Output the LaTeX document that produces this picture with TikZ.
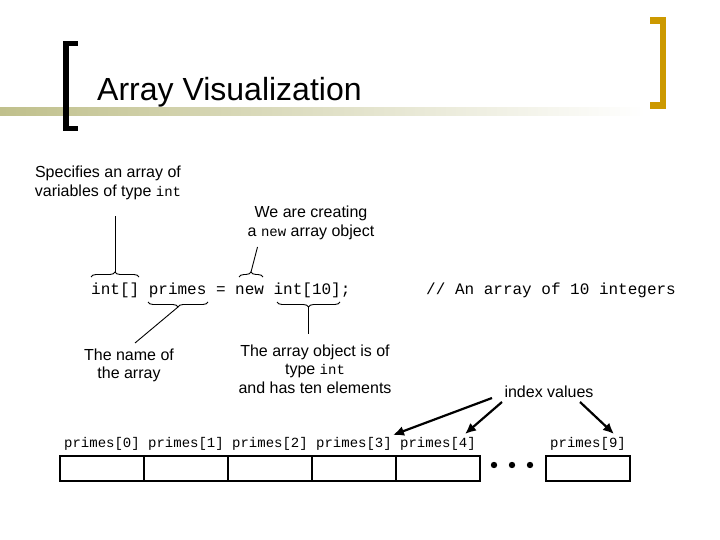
\documentclass[tikz,border=0pt]{standalone}
\usepackage{fontspec}
\setmainfont{Liberation Sans}
\setmonofont{Liberation Mono}
\usetikzlibrary{arrows.meta,decorations.pathreplacing}
\definecolor{barL}{RGB}{192,192,140}
\definecolor{gold}{RGB}{204,153,0}
\newcommand{\ic}[1]{{\fontsize{14}{16}\ttfamily #1}}
\begin{document}
\begin{tikzpicture}[x=1pt,y=-1pt,
  lbl/.style={font=\fontsize{16}{18.5}\selectfont, align=center, inner sep=0},
  codetxt/.style={font=\fontsize{16}{18}\ttfamily, inner sep=0, anchor=base west},
  idx/.style={font=\fontsize{14}{16}\ttfamily, inner sep=0, anchor=base},
  cell/.style={draw, line width=2pt, minimum width=84pt, minimum height=25pt, inner sep=0, outer sep=0},
  thinln/.style={line width=0.9pt},
  ptr/.style={line width=2.2pt, -{Latex[length=11pt,width=10pt]}},
  brc/.style={line width=0.9pt, decorate, decoration={brace, amplitude=5pt}}]
\useasboundingbox (0,0) rectangle (720,540);
\fill[white] (0,0) rectangle (720,540);
% title bar
\shade[left color=barL, right color=white] (0,108) rectangle (645,116);
\fill[black] (63,41) rectangle (69,131);
\fill[black] (63,41) rectangle (78,46);
\fill[black] (63,126) rectangle (78,131);
\fill[gold] (659.5,17.5) rectangle (666,109);
\fill[gold] (650,17.5) rectangle (666,24);
\fill[gold] (650,102.5) rectangle (666,109);
\node[anchor=base west, font=\fontsize{32}{36}\selectfont, inner sep=0] (title) at (97,100.5) {Array Visualization};
% explanation labels
\node[lbl] (spec) at (108,183) {Specifies an array of\\variables of type \ic{int}};
\node[lbl] (newl) at (311,223) {We are creating\\a \ic{new} array object};
\node[lbl] (name) at (129,365.5) {The name of\\the array};
\node[lbl] (obj) at (315,369) {The array object is of\\type \ic{int}\\and has ten elements};
\node[lbl] (iv) at (549,392) {index values};
% code line
\node[codetxt] (c1) at (91,294) {int[]};
\node[codetxt] (c2) at (148.6,294) {primes};
\node[codetxt] (c3) at (216,294) {=};
\node[codetxt] (c4) at (235,294) {new};
\node[codetxt] (c5) at (273.4,294) {int[10];};
\node[codetxt] (cm) at (426,294) {// An array of 10 integers};
% braces
\draw[brc] (91,277) -- (139,277);
\draw[brc] (239,277) -- (263,277);
\draw[brc] (208,302) -- (148,302);
\draw[brc] (340,302) -- (277,302);
\coordinate (t1) at (115,272);
\coordinate (e1) at (115,216);
\coordinate (t2) at (251,272);
\coordinate (e2) at (257.5,247);
\coordinate (t3) at (178,307);
\coordinate (e3) at (135,343);
\coordinate (t4) at (308.5,307);
\coordinate (e4) at (308.5,334);
\draw[thinln] (t1) -- (e1);
\draw[thinln] (t2) -- (e2);
\draw[thinln] (t3) -- (e3);
\draw[thinln] (t4) -- (e4);
% array cells
\foreach \i in {0,...,4} {
  \node[cell] (a\i) at (102+84*\i,468.5) {};
  \node[idx] (l\i) at (102+84*\i,447) {primes[\i]};
}
\node[cell] (a9) at (588,468.5) {};
\node[idx] (l9) at (588,447) {primes[9]};
\fill (494,465) circle (3.2);
\fill (512,465) circle (3.2);
\fill (530,465) circle (3.2);
% index arrows
\coordinate (s1) at (492,398);
\coordinate (s2) at (502,402);
\coordinate (s3) at (580,402);
\coordinate (d1) at (393,435);
\coordinate (d2) at (465,434);
\coordinate (d3) at (614,434);
\draw[ptr] (s1) -- (d1);
\draw[ptr] (s2) -- (d2);
\draw[ptr] (s3) -- (d3);
\end{tikzpicture}
\end{document}
